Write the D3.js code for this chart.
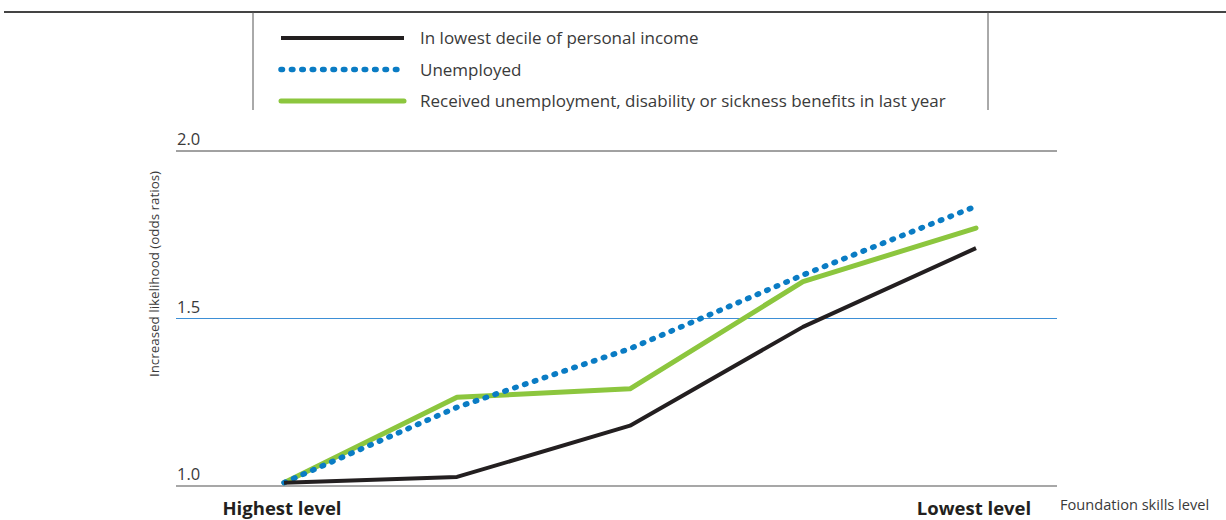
<!DOCTYPE html>
<html><head><meta charset="utf-8">
<script src="https://cdn.jsdelivr.net/npm/d3@7"></script>
<style>
html,body{margin:0;padding:0;background:#fff;}
svg{display:block;font-family:"Open Sans",sans-serif;}
</style></head>
<body>
<svg id="c" width="1226" height="520"></svg>
<script>
const categories = ["Highest level", "", "", "", "Lowest level"];
const seriesNames = ["In lowest decile of personal income", "Unemployed", "Received unemployment, disability or sickness benefits in last year"];
const lowIncome = [1.01, 1.027, 1.18, 1.475, 1.71];
const unemployed = [1.01, 1.235, 1.41, 1.63, 1.835];
const benefits = [1.01, 1.265, 1.29, 1.61, 1.77];
const yTicks = [1.0, 1.5, 2.0];
const yTitle = "Increased likelihood (odds ratios)";
const xTitle = "Foundation skills level";

const svg = d3.select("#c");
const textCol = "#3a3a3a";

const x = d3.scalePoint().domain(d3.range(categories.length)).range([284, 976]);
const y = d3.scaleLinear().domain([1.0, 2.0]).range([486, 151]);

// top rule and legend box
svg.append("line").attr("x1",4).attr("x2",1226).attr("y1",12).attr("y2",12).attr("stroke","#444").attr("stroke-width",2);
svg.append("line").attr("x1",253).attr("x2",253).attr("y1",12).attr("y2",110).attr("stroke","#555").attr("stroke-width",1);
svg.append("line").attr("x1",988).attr("x2",988).attr("y1",12).attr("y2",110).attr("stroke","#555").attr("stroke-width",1);

const styles = [
  {color:"#231f20", width:4, dash:null, cap:"butt"},
  {color:"#0a7cc4", width:5.5, dash:"1.5 8.9", cap:"round"},
  {color:"#8cc63e", width:5, dash:null, cap:"round"}
];
const series = [lowIncome, unemployed, benefits];

// legend
const leg = svg.append("g");
seriesNames.forEach((n,i)=>{
  const yy = 38 + i*31.5;
  const s = styles[i];
  leg.append("line").attr("x1",281).attr("x2",404).attr("y1",yy).attr("y2",yy)
    .attr("stroke",s.color).attr("stroke-width",s.width)
    .attr("stroke-dasharray",s.dash).attr("stroke-linecap",s.cap);
  leg.append("text").attr("x",420).attr("y",yy+6).attr("font-size",17).attr("fill",textCol).text(n);
});

// gridlines / axis
const gridStyle = {1.0:{c:"#8a8a8a",w:1.5}, 1.5:{c:"#3d8fd6",w:1}, 2.0:{c:"#444",w:1}};
yTicks.forEach(t=>{
  const g = gridStyle[t];
  svg.append("line").attr("x1",176).attr("x2",1057).attr("y1",y(t)).attr("y2",y(t))
    .attr("stroke",g.c).attr("stroke-width",g.w);
  svg.append("text").attr("x",177).attr("y",y(t)-6).attr("font-size",16.5).attr("fill",textCol)
    .text(d3.format(".1f")(t));
});

// y title
svg.append("text").attr("transform",`translate(159,${(160+388)/2}) rotate(-90)`)
  .attr("text-anchor","middle").attr("font-size",13.4).attr("fill",textCol).text(yTitle);

// lines
const line = d3.line().x((d,i)=>x(i)).y(d=>y(d));
[2,1,0].forEach(i=>{
  const s = styles[i];
  svg.append("path").datum(series[i]).attr("d",line).attr("fill","none")
    .attr("stroke",s.color).attr("stroke-width",s.width)
    .attr("stroke-dasharray",s.dash).attr("stroke-linecap",s.cap).attr("stroke-linejoin","round");
});

// category labels
categories.forEach((c,i)=>{
  if(!c) return;
  svg.append("text").attr("x",x(i)-2).attr("y",515).attr("text-anchor","middle")
    .attr("font-size",18.5).attr("font-weight","bold").attr("fill","#231f20").text(c);
});
svg.append("text").attr("x",1060).attr("y",510).attr("font-size",14.6).attr("fill",textCol).text(xTitle);
</script>
</body></html>
